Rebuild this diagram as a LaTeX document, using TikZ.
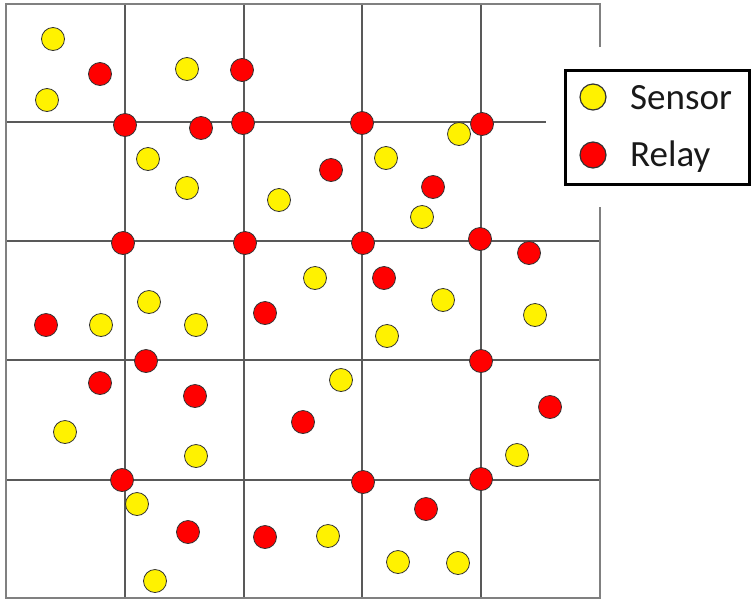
\documentclass[tikz,border=0pt]{standalone}
\usepackage{fontspec}
\setmainfont{Carlito}
\begin{document}
\begin{tikzpicture}[x=1pt,y=-1pt,
  gridline/.style={draw=black!65,line width=1.4pt},
  border/.style={draw=black!50,line width=1.8pt},
  sensor/.style={circle,draw=black!80,fill=yellow,line width=0.8pt,minimum size=23pt,inner sep=0pt},
  relay/.style={circle,draw=black!80,fill=red,line width=0.8pt,minimum size=23pt,inner sep=0pt},
  legsensor/.style={sensor,minimum size=26pt,line width=1.2pt},
  legrelay/.style={relay,minimum size=26pt,line width=1.2pt},
  legtext/.style={anchor=base west,inner sep=0pt,font=\fontsize{37}{44}\selectfont,text=black!90}]
\useasboundingbox (0,0) rectangle (751,600);
% inner grid lines
\foreach \x in {125,244,362,481} \draw[gridline] (\x,4) -- (\x,598);
\draw[gridline] (6,122) -- (546,122);
\foreach \y in {241,360,480} \draw[gridline] (6,\y) -- (600,\y);
% outer border
\draw[border] (600,47) -- (600,4) -- (6,4) -- (6,598) -- (600,598) -- (600,207);
% sensors
\foreach [count=\i] \p in {(53,39),(47,100),(187,69),(148,159),(187,188),(279,200),(386,158),(459,134),(422,217),(149,302),(101,325),(196,325),(65,432),(315,278),(443,300),(387,336),(341,380),(535,315),(196,456),(137,504),(155,581),(328,536),(398,562),(458,563),(517,455)}
  \node[sensor] (s\i) at \p {};
% relays
\foreach [count=\i] \p in {(100,74),(242,70),(125,125),(201,128),(243,123),(123,243),(245,243),(362,123),(331,170),(482,124),(433,187),(363,243),(480,239),(529,253),(46,325),(146,361),(100,383),(195,396),(265,313),(384,278),(481,361),(303,422),(550,407),(122,480),(188,532),(363,482),(481,479),(426,509),(265,537)}
  \node[relay] (r\i) at \p {};
% legend
\draw[black,line width=3pt] (565.5,70.5) rectangle (749.5,184.5);
\node[legsensor] (ls) at (593,97) {};
\node[legrelay] (lr) at (593,155) {};
\node[legtext] (lst) at (630,109) {Sensor};
\node[legtext] (lrt) at (630,166) {Relay};
\end{tikzpicture}
\end{document}
